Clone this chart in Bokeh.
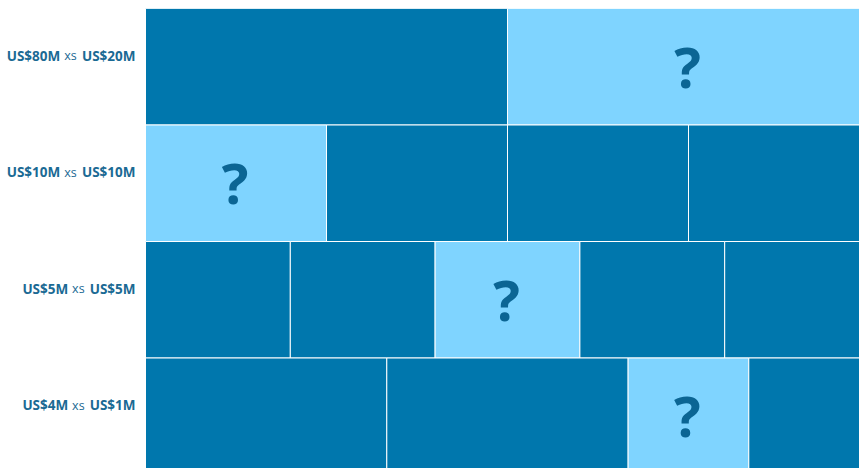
from bokeh.plotting import figure
from bokeh.models import ColumnDataSource, Range1d
from bokeh.core.properties import value
from bokeh.embed import file_html
from bokeh.resources import INLINE

# ---- data (top row first) ----
limits = ["US$80M", "US$10M", "US$5M", "US$4M"]
attachments = ["US$20M", "US$10M", "US$5M", "US$1M"]
shares = [
    [50, 50],
    [25, 25, 25, 25],
    [20, 20, 20, 20, 20],
    [33.33, 33.33, 16.67, 16.67],
]
open_slot = [1, 0, 2, 2]  # index of the unfilled ("?") share in each layer

DARK = "#0077AD"
LIGHT = "#7FD4FF"
QCOL = "#0B6594"
LABEL = "#1B6A94"

ROW_PX = 116.5
FIG_W, FIG_H = 859, 468
TOP = 8
LEFT = 145          # screen x where the tower starts
TOTAL_PX = 724.0    # screen width of a full (100%) layer
n = len(limits)
u = 100 / TOTAL_PX  # data units per pixel

p = figure(width=FIG_W, height=FIG_H,
           x_range=Range1d(-LEFT * u, (FIG_W - LEFT) * u),
           y_range=Range1d(n - (FIG_H - TOP) / ROW_PX, n),
           x_axis_location=None, y_axis_location=None,
           min_border_left=0, min_border_right=0,
           min_border_top=TOP, min_border_bottom=0,
           toolbar_location=None, output_backend="svg")
p.grid.visible = False
p.outline_line_color = None

left, right, bottom, top, color = [], [], [], [], []
qx, qy = [], []
for i, row in enumerate(shares):
    y0 = n - 1 - i
    x = 0.0
    for j, s in enumerate(row):
        left.append(x); right.append(x + s)
        bottom.append(y0); top.append(y0 + 1)
        if j == open_slot[i]:
            color.append(LIGHT)
            qx.append(x + s / 2); qy.append(y0 + 0.5)
        else:
            color.append(DARK)
        x += s

src = ColumnDataSource(dict(left=left, right=right, bottom=bottom, top=top, color=color))
p.quad(left="left", right="right", bottom="bottom", top="top", fill_color="color",
       line_color="white", line_width=1, source=src)

qsrc = ColumnDataSource(dict(x=qx, y=qy, t=["?"] * len(qx)))
p.text(x="x", y="y", text="t", source=qsrc, text_align="center", text_baseline="middle",
       text_font=value("Open Sans"), text_font_style="bold", text_font_size="56px",
       text_color=QCOL, x_offset=-1, y_offset=-1)

# approximate advance widths (em) for label layout
W_BOLD = {"U": .74, "S": .56, "$": .59, "M": .92}
W_REG = {"x": .53, "s": .46}
def width(s, table, size, default=.59):
    return sum(table.get(c, default) for c in s) * size

BOLD_SZ, XS_SZ = 13.5, 12.5
ys = [n - 1 - i + 0.5 for i in range(n)]
w_xs = width("xs", W_REG, XS_SZ)
off_att = [-10.0] * n
off_xs = [-10 - width(a, W_BOLD, BOLD_SZ) - 5 for a in attachments]
off_lim = [o - w_xs - 4 for o in off_xs]

common = dict(text_align="right", text_baseline="middle",
              text_font=value("Open Sans"), text_color=LABEL)
p.text(x=[0] * n, y=ys, text=attachments, x_offset=off_att, y_offset=-11,
       text_font_style="bold", text_font_size=f"{BOLD_SZ}px", **common)
p.text(x=[0] * n, y=ys, text=["xs"] * n, x_offset=off_xs, y_offset=-11,
       text_font_style="normal", text_font_size=f"{XS_SZ}px", **common)
p.text(x=[0] * n, y=ys, text=limits, x_offset=off_lim, y_offset=-11,
       text_font_style="bold", text_font_size=f"{BOLD_SZ}px", **common)

open("out.html", "w").write(file_html(p, INLINE))
